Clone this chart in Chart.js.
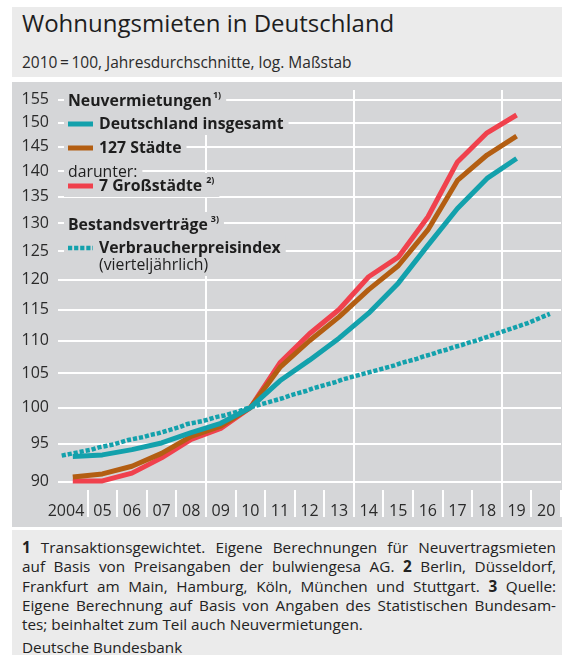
<!DOCTYPE html>
<html>
<head>
<meta charset="utf-8">
<script src="https://cdn.jsdelivr.net/npm/chart.js@4.4.1/dist/chart.umd.min.js"></script>
<style>
html,body{margin:0;padding:0;background:#fff;width:562px;height:655px;overflow:hidden;font-family:"Open Sans",sans-serif;color:#222}
#head{position:absolute;left:12px;top:7px;width:550px;height:70px;background:#ebebeb}
#title{position:absolute;left:10px;top:1.5px;font-size:24px;line-height:28px;white-space:nowrap;color:#1e1e1e}
#sub{position:absolute;left:10px;top:45px;font-size:15.5px;line-height:20px;white-space:nowrap;color:#2a2a2a}
#panel{position:absolute;left:12px;top:82px;width:550px;height:445px;background:#d5d6d8}
#panel canvas{position:absolute;left:0;top:0}
#foot{position:absolute;left:12px;top:530px;width:550px;height:125px;background:#ebebeb;overflow:hidden}
#notes{position:absolute;left:10px;top:8px;width:534px;font-size:15.3px;line-height:19.3px;color:#222}
#notes div{text-align:justify;text-align-last:justify}
#notes div.last{text-align-last:left}
#src{position:absolute;left:10px;top:108px;font-size:15.3px;line-height:19px;color:#222;white-space:nowrap}
</style>
</head>
<body>
<div id="head">
  <div id="title">Wohnungsmieten in Deutschland</div>
  <div id="sub">2010&#8201;=&#8201;100, Jahresdurchschnitte, log. Maßstab</div>
</div>
<div id="panel"><canvas id="c" width="550" height="445"></canvas></div>
<div id="foot">
  <div id="notes">
    <div><b>1</b> Transaktionsgewichtet. Eigene Berechnungen für Neuvertragsmieten</div>
    <div>auf Basis von Preisangaben der bulwiengesa AG. <b>2</b> Berlin, Düsseldorf,</div>
    <div>Frankfurt am Main, Hamburg, Köln, München und Stuttgart. <b>3</b> Quelle:</div>
    <div>Eigene Berechnung auf Basis von Angaben des Statistischen Bundesam-</div>
    <div class="last">tes; beinhaltet zum Teil auch Neuvermietungen.</div>
  </div>
  <div id="src">Deutsche Bundesbank</div>
</div>
<script>
// ---- data ----
const years = [2004,2005,2006,2007,2008,2009,2010,2011,2012,2013,2014,2015,2016,2017,2018,2019];
const deutschland = [93.3,93.5,94.2,95.1,96.5,97.8,100,103.9,107.0,110.4,114.4,119.4,126.0,132.8,138.6,142.6];
const staedte127 = [90.6,91.0,92.0,93.7,96.0,97.4,100,105.9,110.0,113.8,118.3,122.4,128.8,138.2,143.3,147.2];
const grossstaedte7 = [90.1,90.1,91.1,93.1,95.6,97.1,100,106.6,111.1,115.0,120.5,123.9,131.2,141.9,147.9,151.7];
// Verbraucherpreisindex (rents), quarterly from 2004 Q1
const cpiStartYear = 2004;
const cpiQuarterly = [
  93.4,93.6,93.8,94.0,
  94.2,94.5,94.7,94.9,
  95.2,95.5,95.7,95.9,
  96.2,96.4,96.7,97.0,
  97.3,97.7,97.9,98.1,
  98.4,98.7,98.9,99.2,
  99.5,99.9,100.2,100.5,
  100.8,101.1,101.4,101.8,
  102.1,102.4,102.8,103.1,
  103.4,103.7,104.1,104.4,
  104.7,105.0,105.3,105.6,
  105.9,106.2,106.6,106.9,
  107.2,107.6,107.9,108.3,
  108.6,109.0,109.3,109.7,
  110.0,110.4,110.8,111.2,
  111.6,112.0,112.4,112.8,
  113.3,113.8,114.3
];
const xTickLabels = ['2004','05','06','07','08','09','10','11','12','13','14','15','16','17','18','19','20'];
const yTicks = [90,95,100,105,110,115,120,125,130,135,140,145,150,155];
const fullGridYears = [2009,2014,2019];

const PANEL = '#d5d6d8';
const C_TEAL = '#13a1ac', C_BROWN = '#b35e12', C_RED = '#f0414d';

const annual = arr => arr.map((v,i)=>({x: years[i]+0.5, y: v}));
const cpiPoints = cpiQuarterly.map((v,i)=>({x: cpiStartYear + (i+0.5)/4, y: v}));

// ---- legend drawn on canvas ----
const legendPlugin = {
  id: 'legendBox',
  afterDatasetsDraw(chart){
    const ctx = chart.ctx;
    const F = "'Open Sans', sans-serif";
    const items = [
      {y:19, x:56, text:'Neuvermietungen', bold:true, sup:'1)', supGap:1},
      {y:42, sw:'solid', color:C_TEAL, text:'Deutschland insgesamt', bold:true},
      {y:66, sw:'solid', color:C_BROWN, text:'127 Städte', bold:true},
      {y:90, x:56, text:'darunter:', bold:false},
      {y:104, sw:'solid', color:C_RED, text:'7 Großstädte', bold:true, sup:'2)', supGap:4},
      {y:143, x:56, text:'Bestandsverträge', bold:true, sup:'3)', supGap:3},
      {y:166, sw:'dot', color:C_TEAL, text:'Verbraucherpreisindex', bold:true},
      {y:183, x:87, text:'(vierteljährlich)', bold:false}
    ];
    const swX = 56, swW = 25, txX = 87;
    ctx.save();
    items.forEach(it=>{
      ctx.font = (it.bold?'bold ':'') + '15.8px ' + F;
      const tx = it.sw ? txX : it.x;
      it.tx = tx;
      let w = ctx.measureText(it.text).width;
      it.tw = w;
      if (it.sup){ ctx.font = 'bold 9px ' + F; w += it.supGap + ctx.measureText(it.sup).width; }
      const x0 = (it.sw ? swX : tx) - 4;
      const x1 = tx + w + 5;
      ctx.fillStyle = PANEL;
      ctx.fillRect(x0, it.y - 13, x1 - x0, 24);
    });
    items.forEach(it=>{
      if (it.sw){
        ctx.beginPath();
        ctx.strokeStyle = it.color;
        if (it.sw === 'dot'){ ctx.lineWidth = 4.5; ctx.setLineDash([4.2,1.9]); }
        else { ctx.lineWidth = 5; ctx.setLineDash([]); }
        ctx.moveTo(swX, it.y); ctx.lineTo(swX+swW, it.y); ctx.stroke();
        ctx.setLineDash([]);
      }
      ctx.fillStyle = '#1e1e1e';
      ctx.textBaseline = 'middle';
      ctx.textAlign = 'left';
      ctx.font = (it.bold?'bold ':'') + '15.8px ' + F;
      ctx.fillText(it.text, it.tx, it.y);
      if (it.sup){
        ctx.font = 'bold 9px ' + F;
        ctx.fillText(it.sup, it.tx + it.tw + it.supGap, it.y - 6);
      }
    });
    ctx.restore();
  }
};

const zeroPad = s => { s.paddingTop = 0; s.paddingBottom = 0; s.paddingLeft = 0; s.paddingRight = 0; };
const firstLabelShift = 0.23; // first label sits left of its interval centre, clear of the tick

new Chart(document.getElementById('c'), {
  type: 'line',
  data: {
    datasets: [
      {label:'Verbraucherpreisindex', data: cpiPoints, borderColor: C_TEAL, borderWidth: 4.5, borderDash:[4.2,1.9], pointRadius:0, tension:0, borderCapStyle:'butt'},
      {label:'Deutschland insgesamt', data: annual(deutschland), borderColor: C_TEAL, borderWidth: 5, pointRadius:0, tension:0, borderCapStyle:'butt', borderJoinStyle:'round'},
      {label:'127 Städte', data: annual(staedte127), borderColor: C_BROWN, borderWidth: 5, pointRadius:0, tension:0, borderCapStyle:'butt', borderJoinStyle:'round'},
      {label:'7 Großstädte', data: annual(grossstaedte7), borderColor: C_RED, borderWidth: 5, pointRadius:0, tension:0, borderCapStyle:'butt', borderJoinStyle:'round'}
    ]
  },
  options: {
    responsive: false,
    animation: false,
    events: [],
    layout: {padding: {top: 8, right: 1, bottom: 0, left: 0}},
    plugins: {legend: {display:false}, tooltip: {enabled:false}},
    scales: {
      x: {
        type: 'linear', min: 2004, max: 2021,
        afterBuildTicks: s => {
          const t = [];
          for (let yv = 2004; yv <= 2021; yv++){
            t.push({value: yv});
            if (yv < 2021) t.push({value: yv + 0.5 - (yv === 2004 ? firstLabelShift : 0), label: true, idx: yv - 2004});
          }
          s.ticks = t;
        },
        afterFit: s => { s.height = 37; zeroPad(s); },
        border: {display:false},
        grid: {
          color: c => (c.tick && fullGridYears.includes(c.tick.value)) ? '#ffffff' : 'rgba(0,0,0,0)',
          tickColor: c => (c.tick && Number.isInteger(c.tick.value) && c.tick.value > 2004) ? '#ffffff' : 'rgba(0,0,0,0)',
          lineWidth: 2, tickWidth: 2, tickLength: 27, drawTicks: true
        },
        ticks: {
          autoSkip: false, maxRotation: 0, minRotation: 0, padding: -15,
          color: '#2a2a2a', font: {family: "'Open Sans', sans-serif", size: 16},
          callback: (v, i, ticks) => ticks[i].label ? xTickLabels[ticks[i].idx] : ''
        }
      },
      y: {
        type: 'logarithmic', min: 88.94, max: 157.2,
        afterBuildTicks: s => { s.ticks = yTicks.map(v => ({value: v})); },
        afterFit: s => { s.width = 46; zeroPad(s); },
        border: {display:false},
        grid: {color:'#ffffff', lineWidth: 2, drawTicks: false},
        ticks: {
          padding: 9, color: '#2a2a2a', font: {family: "'Open Sans', sans-serif", size: 16},
          callback: v => String(v)
        }
      }
    }
  },
  plugins: [legendPlugin]
});
</script>
</body>
</html>
